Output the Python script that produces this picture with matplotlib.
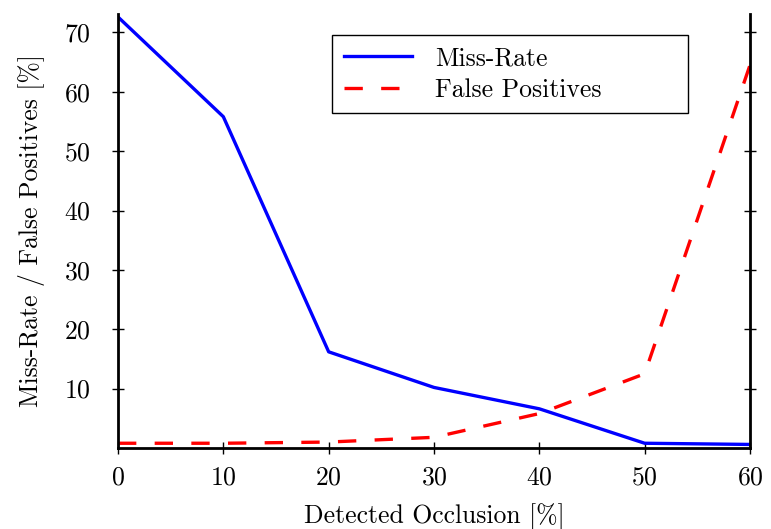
import matplotlib
matplotlib.use("Agg")
import matplotlib.pyplot as plt

plt.rcParams["font.family"] = "cmr10"
plt.rcParams["mathtext.fontset"] = "cm"
plt.rcParams["axes.formatter.use_mathtext"] = True
plt.rcParams["font.size"] = 18.5

occlusion = [0, 10, 20, 30, 40, 50, 60]
miss_rate = [72.6, 55.8, 16.2, 10.2, 6.6, 0.8, 0.6]
false_pos = [0.8, 0.8, 1.0, 1.8, 5.8, 12.5, 64.5]

fig = plt.figure(figsize=(7.71, 5.29), dpi=100)
ax = fig.add_axes([118 / 771, 1 - 448 / 529, (750 - 118) / 771, (448 - 14) / 529])

ax.plot(occlusion, miss_rate, color="blue", lw=2.4, label="Miss-Rate")
ax.plot(occlusion, false_pos, color="red", lw=2.4, ls=(0, (5.5, 5.5)),
        label="False Positives")

ax.set_xlim(0, 60)
ax.set_ylim(0, 73.1)
ax.set_xticks([0, 10, 20, 30, 40, 50, 60])
ax.set_yticks([10, 20, 30, 40, 50, 60, 70])

for side in ["left", "bottom", "right"]:
    ax.spines[side].set_linewidth(2.0)
ax.spines["top"].set_visible(False)

ax.tick_params(direction="inout", length=9, width=1.0)
ax.tick_params(axis="x", pad=8)
ax.tick_params(axis="y", right=True, pad=15)

ax.set_xlabel("Detected Occlusion [%]", labelpad=10)
ax.set_ylabel("Miss-Rate / False Positives [%]", labelpad=14)

x0 = (332 - 118) / 632
y1 = 1 - (35 - 14) / 434
w = (688 - 332) / 632
h = (113 - 35) / 434
leg = ax.legend(loc="upper left", bbox_to_anchor=(x0, y1 - h, w, h), mode="expand",
                fancybox=False, framealpha=1, edgecolor="black", handlelength=2.65,
                borderpad=0.45, labelspacing=0.3, handletextpad=0.9, borderaxespad=0)
leg.get_frame().set_linewidth(1.0)

fig.savefig("out.png", dpi=100)
